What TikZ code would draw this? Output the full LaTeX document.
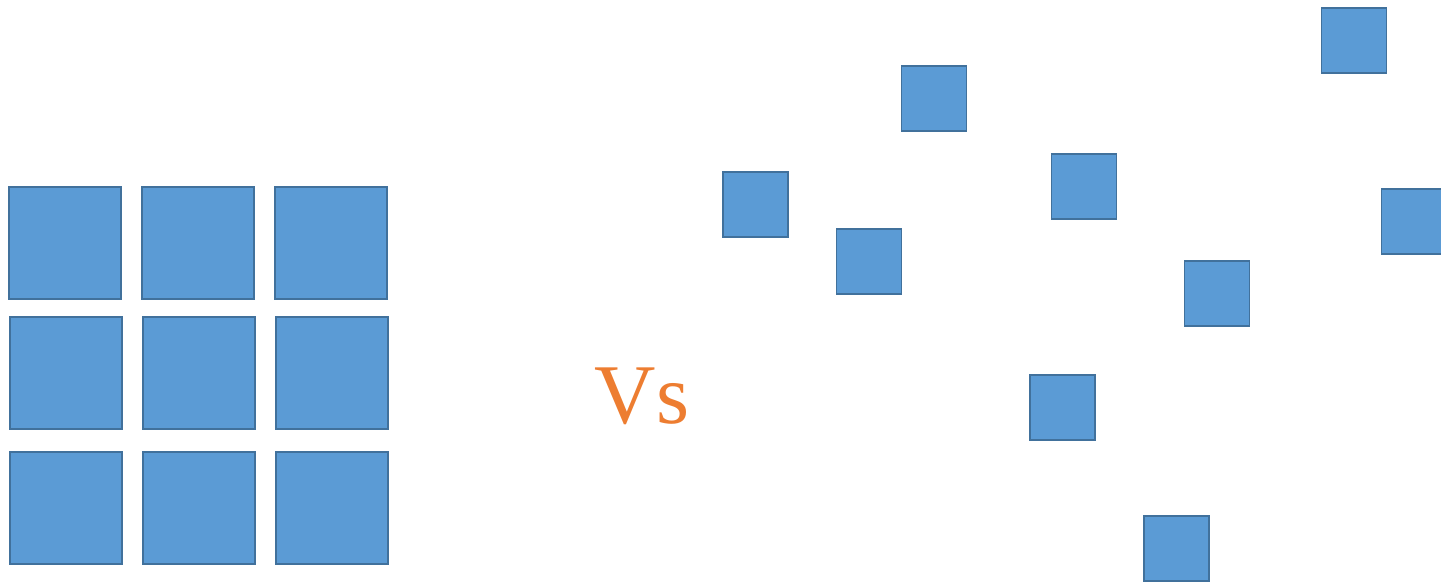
\documentclass[tikz,border=0pt]{standalone}
\usepackage{fontspec}
\setmainfont{Liberation Serif}
\definecolor{tilefill}{HTML}{5B9BD5}
\definecolor{tileline}{HTML}{41719C}
\definecolor{vsorange}{HTML}{ED7D31}

\begin{document}
\begin{tikzpicture}[x=1pt,y=-1pt,
    tile/.style={draw=tileline,fill=tilefill,line width=1.2pt,inner sep=0pt,
        minimum size=#1},
    tile/.default=65pt
]
\useasboundingbox (0,0) rectangle (1441,583);
\clip (0,0) rectangle (1441,583);
% ordered grid
\foreach \r/\y/\dx in {1/243/0,2/373/1,3/508/1}
    \foreach \c/\x in {1/65,2/198,3/331}
        \node[tile=112pt] (g\r\c) at (\x+\dx,\y) {};
% label in between
\node[text=vsorange,font=\fontsize{85}{85}\selectfont,anchor=base,inner sep=0pt]
    (vs) at (642,423) {Vs};
% scattered tiles
\foreach \n/\x/\y in {1/934/98.5,2/755.5/204.5,3/869/261.5,4/1084/186.5,
    5/1354/40.5,6/1414/221.5,7/1217/293.5,8/1062.5/407.5,9/1176.5/548.5}
    \node[tile] (s\n) at (\x,\y) {};
\end{tikzpicture}
\end{document}
